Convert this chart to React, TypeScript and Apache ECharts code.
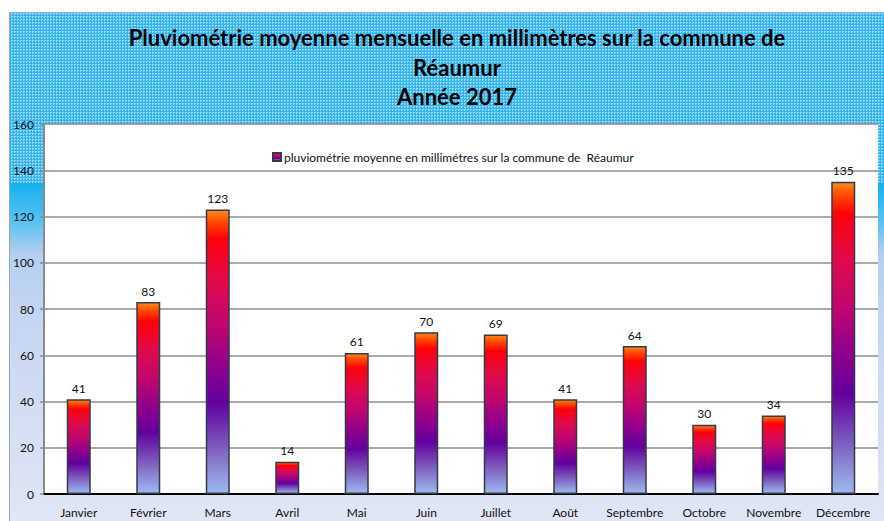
import React, { useEffect, useRef } from "react";
import * as echarts from "echarts";

const months = ["Janvier", "Février", "Mars", "Avril", "Mai", "Juin", "Juillet", "Août", "Septembre", "Octobre", "Novembre", "Décembre"];
const rainfall = [41, 83, 123, 14, 61, 70, 69, 41, 64, 30, 34, 135];
const seriesName = "pluviométrie moyenne en millimétres sur la commune de  Réaumur";
const titleText = "Pluviométrie moyenne mensuelle en millimètres sur la commune de\nRéaumur\nAnnée 2017";

const FONT = "Lato, 'Liberation Sans', sans-serif";

export default function App() {
  const ref = useRef<HTMLDivElement>(null);
  useEffect(() => {
    if (!ref.current) return;
    const chart = echarts.init(ref.current, undefined, { renderer: "svg" });
    const barGradient = new echarts.graphic.LinearGradient(0, 0, 0, 1, [
      { offset: 0, color: "#ff8a1a" },
      { offset: 0.04, color: "#ff4a00" },
      { offset: 0.1, color: "#ff0008" },
      { offset: 0.25, color: "#e00a4c" },
      { offset: 0.4, color: "#c0066e" },
      { offset: 0.55, color: "#90008e" },
      { offset: 0.68, color: "#62009e" },
      { offset: 0.83, color: "#7c58bc" },
      { offset: 1, color: "#9cbcf0" },
    ]);
    chart.setOption({
      animation: false,
      backgroundColor: "transparent",
      textStyle: { fontFamily: FONT },
      title: {
        text: titleText,
        left: 452,
        top: 18,
        textAlign: "center",
        textStyle: { fontFamily: FONT, fontWeight: "bold", fontSize: 22, lineHeight: 29.5, color: "#000" },
      },
      legend: {
        data: [seriesName],
        left: 267,
        top: 146,
        icon: "rect",
        itemWidth: 8,
        itemHeight: 8,
        itemGap: 4,
        textStyle: { fontFamily: FONT, fontSize: 12, color: "#111", padding: [0, 0, 0, -2] },
      },
      grid: {
        left: 44,
        right: 6,
        top: 124,
        bottom: 27,
        show: true,
        backgroundColor: "#ffffff",
        borderWidth: 0,
      },
      xAxis: {
        type: "category",
        data: months,
        axisLine: { lineStyle: { color: "#000", width: 2 } },
        axisTick: { alignWithLabel: true, interval: 0, length: 4, lineStyle: { color: "#000", width: 1.5 } },
        axisLabel: { interval: 0, fontFamily: FONT, fontSize: 12, color: "#111", margin: 12 },
      },
      yAxis: {
        type: "value",
        min: 0,
        max: 160,
        interval: 20,
        axisLine: { show: true, lineStyle: { color: "#8a8a8a", width: 2 } },
        axisTick: { show: true, length: 4, lineStyle: { color: "#8a8a8a", width: 1.5 } },
        splitLine: { lineStyle: { color: "#8e8e8e", width: 1.5 } },
        axisLabel: { fontFamily: FONT, fontSize: 12, color: "#111", margin: 10 },
      },
      series: [
        {
          name: seriesName,
          type: "bar",
          data: rainfall,
          barWidth: 24,
          itemStyle: { color: barGradient, borderColor: "#333a4a", borderWidth: 1.5 },
          label: { show: true, position: "top", distance: 5, fontFamily: FONT, fontSize: 12, color: "#111" },
        },
      ],
    });
    return () => chart.dispose();
  }, []);

  return (
    <div style={{ position: "absolute", left: 0, top: 0, width: 884, height: 521, overflow: "hidden", background: "#ffffff" }}>
      <div
        style={{
          position: "absolute",
          left: 9,
          top: 12,
          width: 875,
          height: 171,
          borderTop: "1px solid #9aaabe",
          borderLeft: "1px solid #9aaabe",
          boxSizing: "border-box",
          backgroundColor: "#36b6ec",
          backgroundImage: "repeating-conic-gradient(#9ad9f7 0 25%, #34b4ec 0 100%)",
          backgroundSize: "3px 3px",
        }}
      />
      <div
        style={{
          position: "absolute",
          left: 9,
          top: 183,
          width: 875,
          height: 338,
          borderLeft: "1px solid #9aaabe",
          boxSizing: "border-box",
          background: "linear-gradient(to bottom, #14b0f0 0px, #5cc2f2 40px, #b6cff0 72px, #c6d6f1 140px, #e0e6f4 338px)",
        }}
      />
      <div ref={ref} style={{ position: "absolute", left: 0, top: 0, width: 884, height: 521 }} />
    </div>
  );
}
